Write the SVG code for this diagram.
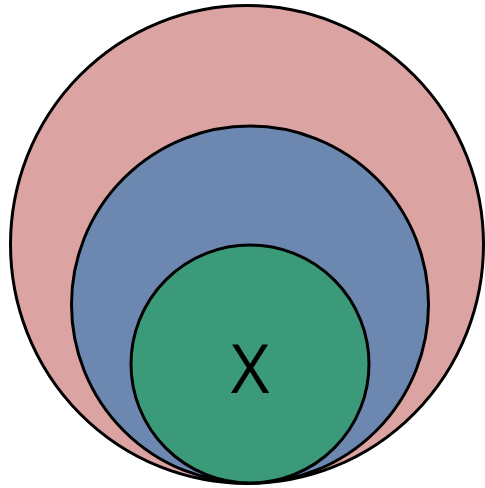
<svg xmlns="http://www.w3.org/2000/svg" width="485" height="488" viewBox="0 0 485 488">
<style>
.c{stroke:#000;stroke-width:3}
.t{font-family:"Open Sans","Liberation Sans",sans-serif;font-size:67px;fill:#000;text-anchor:middle}
</style>
<rect width="485" height="488" fill="#fff"/>
<g id="outer"><ellipse class="c" cx="247" cy="244.5" rx="236.5" ry="239" fill="#dca3a3"/></g>
<g id="middle"><circle class="c" cx="250" cy="304.5" r="178.5" fill="#6d88b0"/></g>
<g id="inner"><circle class="c" cx="250" cy="364" r="119" fill="#3a9a7a"/><text class="t" x="250" y="393">X</text></g>
<g id="connectors"/>
</svg>
